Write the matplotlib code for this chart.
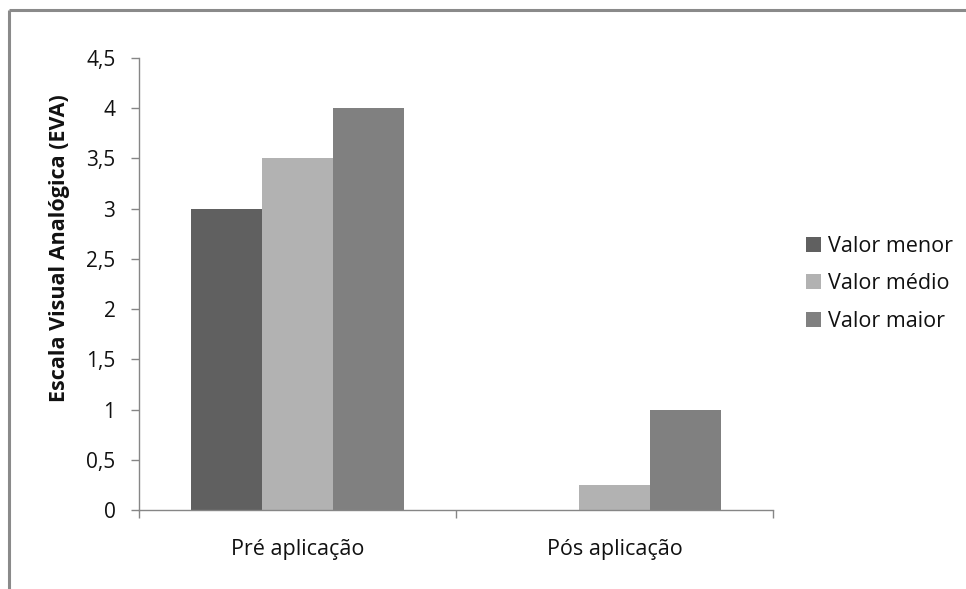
#!/usr/bin/env python3
# Bar chart of EVA pain scores before and after application (lowest, mean, highest).
import matplotlib
matplotlib.use("Agg")
import matplotlib.pyplot as plt  # noqa: E402
from matplotlib.lines import Line2D  # noqa: E402
from matplotlib.ticker import FuncFormatter  # noqa: E402

CATEGORIES = ["Pré aplicação", "Pós aplicação"]
SERIES = ["Valor menor", "Valor médio", "Valor maior"]
VALOR_MENOR = [3.0, 0.0]
VALOR_MEDIO = [3.5, 0.25]
VALOR_MAIOR = [4.0, 1.0]
Y_TICKS = [0, 0.5, 1, 1.5, 2, 2.5, 3, 3.5, 4, 4.5]

COLORS = ["#606060", "#b2b2b2", "#808080"]
AXIS_GRAY = "#868686"
TEXT = "#111111"
FONT = ["Open Sans", "DejaVu Sans"]
FS_TICK = 15
FS_LABEL = 15.5

plt.rcParams["font.family"] = FONT

W, H = 966, 589
fig = plt.figure(figsize=(W / 100, H / 100), dpi=100)
ax = fig.add_axes([139 / W, (H - 510) / H, (773 - 139) / W, (510 - 58) / H])

bar_w = 0.223
x = list(range(len(CATEGORIES)))
for i, (name, vals) in enumerate(zip(SERIES, [VALOR_MENOR, VALOR_MEDIO, VALOR_MAIOR])):
    ax.bar([xi + (i - 1) * bar_w for xi in x], vals, width=bar_w,
           color=COLORS[i], label=name, linewidth=0)

ax.set_xlim(-0.5, len(CATEGORIES) - 0.5)
ax.set_ylim(0, 4.5)
ax.set_yticks(Y_TICKS)
ax.yaxis.set_major_formatter(FuncFormatter(lambda v, _: f"{v:g}".replace(".", ",")))

# category labels without marks; separator ticks between groups
ax.set_xticks(x)
ax.set_xticklabels(CATEGORIES)
ax.set_xticks([-0.5, 0.5, 1.5], minor=True)
ax.tick_params(axis="x", which="major", length=0, pad=21, labelsize=FS_LABEL, labelcolor=TEXT)
ax.tick_params(axis="x", which="minor", length=6, width=1, color=AXIS_GRAY, direction="out")
ax.tick_params(axis="y", length=6, width=1, color=AXIS_GRAY, pad=11, labelsize=FS_TICK,
               labelcolor=TEXT)

for side in ("top", "right"):
    ax.spines[side].set_visible(False)
for side in ("left", "bottom"):
    ax.spines[side].set_color(AXIS_GRAY)
    ax.spines[side].set_linewidth(1)

fig.text(60 / W, (H - 248) / H, "Escala Visual Analógica (EVA)", rotation=90,
         ha="center", va="center", fontsize=FS_LABEL, fontweight="bold", color=TEXT)

leg = fig.legend(loc="center left", bbox_to_anchor=(806 / W, (H - 284) / H), frameon=False,
                 fontsize=FS_LABEL, handlelength=0.7, handleheight=0.7, handletextpad=0.3,
                 labelspacing=0.75, borderaxespad=0, borderpad=0)
for t in leg.get_texts():
    t.set_color(TEXT)

# chart-area frame (left and top edges)
fig.add_artist(Line2D([9 / W, 9 / W], [0, (H - 10) / H], color="#8a8a8a", linewidth=2.2,
                      solid_capstyle="butt"))
fig.add_artist(Line2D([9 / W, 1], [(H - 10) / H, (H - 10) / H], color="#8a8a8a",
                      linewidth=2.2, solid_capstyle="butt"))

fig.savefig("out.png", dpi=100)
